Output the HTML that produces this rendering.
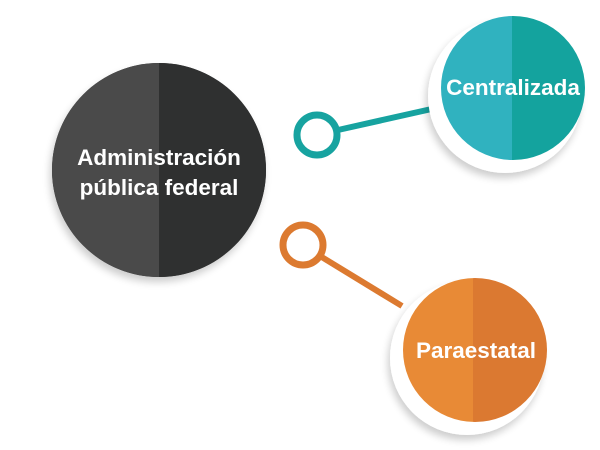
<!DOCTYPE html>
<html><head><meta charset="utf-8"><style>
html,body{margin:0;padding:0;background:#fff;width:600px;height:450px;overflow:hidden}
</style></head><body>
<svg width="600" height="450" viewBox="0 0 600 450" xmlns="http://www.w3.org/2000/svg">
<defs>
<filter id="sh" x="-30%" y="-30%" width="160%" height="160%"><feGaussianBlur in="SourceAlpha" stdDeviation="4"/><feOffset dx="-2" dy="5"/><feComponentTransfer><feFuncA type="linear" slope="0.2"/></feComponentTransfer><feMerge><feMergeNode/><feMergeNode in="SourceGraphic"/></feMerge></filter>
<clipPath id="cd"><circle cx="159" cy="170" r="107"/></clipPath>
<clipPath id="ct"><circle cx="513" cy="88" r="72"/></clipPath>
<clipPath id="co"><circle cx="475" cy="350" r="72"/></clipPath>
</defs>
<line x1="338" y1="130" x2="445" y2="106" stroke="#17a3a0" stroke-width="6"/>
<circle cx="317" cy="135" r="20" fill="#fff" stroke="#17a3a0" stroke-width="7"/>
<line x1="320" y1="256" x2="402" y2="306" stroke="#dc7a30" stroke-width="6"/>
<circle cx="303" cy="245" r="20" fill="#fff" stroke="#dc7a30" stroke-width="7"/>
<circle cx="159" cy="170" r="107" fill="#333" filter="url(#sh)"/>
<g clip-path="url(#cd)"><rect x="40" y="50" width="119" height="240" fill="#4a4a4a"/><rect x="159" y="50" width="120" height="240" fill="#2f3030"/></g>
<text x="159" y="165" text-anchor="middle" font-family="Liberation Sans, sans-serif" font-weight="bold" font-size="22.5" fill="#fff">Administración</text>
<text x="159" y="195" text-anchor="middle" font-family="Liberation Sans, sans-serif" font-weight="bold" font-size="22.5" fill="#fff">pública federal</text>
<circle cx="505" cy="96" r="77" fill="#fff" filter="url(#sh)"/>
<g clip-path="url(#ct)"><rect x="430" y="10" width="82" height="160" fill="#30b2bf"/><rect x="512" y="10" width="80" height="160" fill="#14a39e"/></g>
<text x="513" y="95" text-anchor="middle" font-family="Liberation Sans, sans-serif" font-weight="bold" font-size="22.5" fill="#fff">Centralizada</text>
<circle cx="467" cy="358" r="77" fill="#fff" filter="url(#sh)"/>
<g clip-path="url(#co)"><rect x="395" y="270" width="78" height="160" fill="#e88a36"/><rect x="473" y="270" width="80" height="160" fill="#db7931"/></g>
<text x="476" y="358" text-anchor="middle" font-family="Liberation Sans, sans-serif" font-weight="bold" font-size="22.5" fill="#fff">Paraestatal</text>
</svg>
</body></html>
